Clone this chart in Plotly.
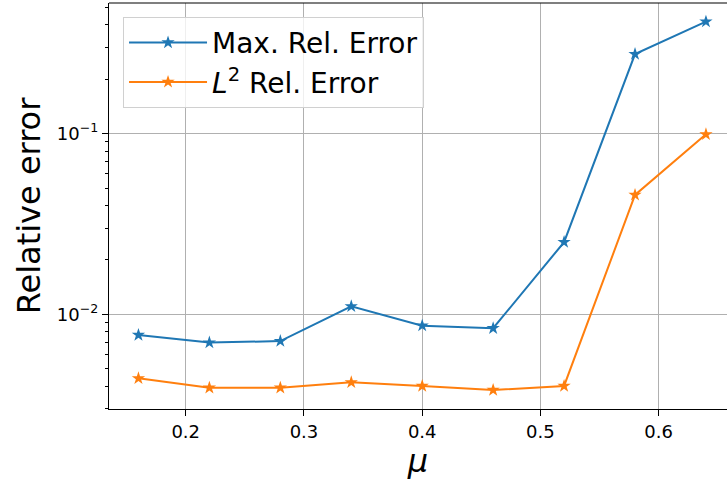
import plotly.graph_objects as go

mu = [0.16, 0.22, 0.28, 0.34, 0.40, 0.46, 0.52, 0.58, 0.64]
max_rel_err = [0.00768, 0.00697, 0.00711, 0.01107, 0.00865, 0.00837, 0.0251, 0.276, 0.417]
l2_rel_err = [0.00442, 0.00392, 0.00392, 0.00420, 0.00401, 0.00381, 0.00401, 0.0458, 0.0992]

x_ticks = [0.2, 0.3, 0.4, 0.5, 0.6]
x_tick_labels = ["0.2", "0.3", "0.4", "0.5", "0.6"]
y_major = [0.01, 0.1]
y_major_labels = ["10<sup>\u22122</sup>", "10<sup>\u22121</sup>"]
y_minor = [m * 10.0 ** e for e in (-3, -2, -1) for m in range(2, 10)]

x_range = [0.1351, 0.6578]
y_range = [-2.5244, -0.2763]

blue = "#1f77b4"
orange = "#ff7f0e"
font = "DejaVu Sans"

fig = go.Figure()
fig.add_trace(go.Scatter(
    x=mu, y=max_rel_err, mode="lines+markers", name="Max. Rel. Error",
    line=dict(color=blue, width=2), marker=dict(symbol="star", size=10, color=blue),
))
fig.add_trace(go.Scatter(
    x=mu, y=l2_rel_err, mode="lines+markers", name="<i>L</i><sup>2</sup> Rel. Error",
    line=dict(color=orange, width=2), marker=dict(symbol="star", size=10, color=orange),
))
# invisible trace to activate minor-tick overlay axis
fig.add_trace(go.Scatter(x=[mu[0]], y=[max_rel_err[0]], yaxis="y2", mode="markers",
                         marker=dict(opacity=0), showlegend=False, hoverinfo="skip"))

fig.update_layout(
    width=727, height=480,
    margin=dict(l=109, r=0, t=3, b=71, autoexpand=False),
    paper_bgcolor="white", plot_bgcolor="white",
    font=dict(family=font, color="black"),
    showlegend=True,
    legend=dict(
        x=0.0227, y=0.966, xanchor="left", yanchor="top",
        bgcolor="rgba(255,255,255,0.8)", bordercolor="#d0d0d0", borderwidth=1,
        font=dict(size=28, family=font), itemwidth=78,
        tracegroupgap=0,
    ),
    xaxis=dict(
        range=x_range, tickvals=x_ticks, ticktext=x_tick_labels,
        showgrid=True, gridcolor="#b0b0b0", gridwidth=1,
        showline=True, linecolor="black", linewidth=1.2,
        ticks="outside", ticklen=6, tickwidth=1.2, tickcolor="black",
        tickfont=dict(size=18), automargin=False,
        title=dict(text="<i>\u03bc</i>", font=dict(size=32), standoff=4),
        zeroline=False,
    ),
    yaxis=dict(
        type="log", range=y_range, tickvals=y_major, ticktext=y_major_labels,
        showgrid=True, gridcolor="#b0b0b0", gridwidth=1,
        showline=True, linecolor="black", linewidth=1.2,
        ticks="outside", ticklen=6, tickwidth=1.2, tickcolor="black",
        tickfont=dict(size=18), automargin=False,
        title=dict(text="Relative error", font=dict(size=32), standoff=6),
        zeroline=False,
    ),
    yaxis2=dict(
        type="log", range=y_range, overlaying="y", side="left", anchor="x",
        tickvals=y_minor, ticktext=[""] * len(y_minor),
        ticks="outside", ticklen=3.5, tickwidth=1, tickcolor="black",
        showgrid=False, showline=False, zeroline=False, automargin=False,
    ),
    shapes=[dict(type="line", xref="paper", yref="paper", x0=0, x1=1, y0=1, y1=1,
                 line=dict(color="black", width=1.2))],
)

fig.write_html("out.html", config={"displayModeBar": False},
               post_script="document.body.style.margin='0';document.body.style.overflow='hidden';")
